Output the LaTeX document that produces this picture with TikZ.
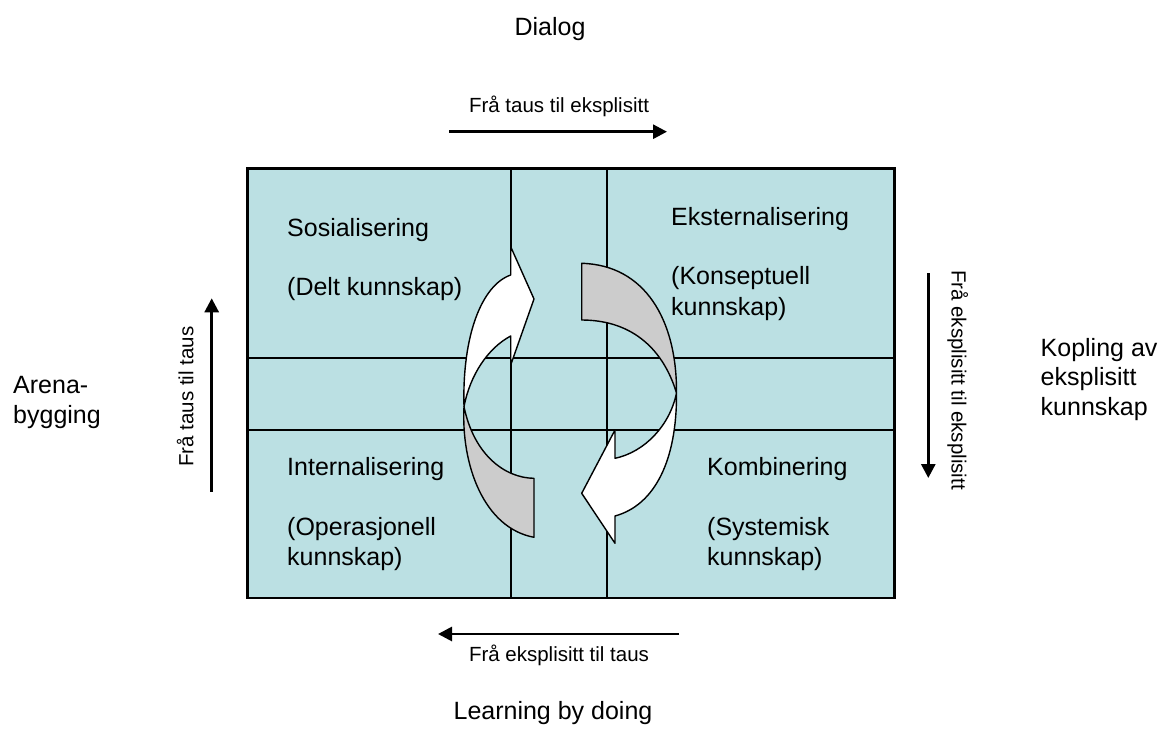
\documentclass[tikz,border=0pt]{standalone}
\usepackage{fontspec}
\setmainfont{Liberation Sans}
\usetikzlibrary{arrows.meta}
\definecolor{cellblue}{HTML}{BBE0E3}
\definecolor{backgray}{HTML}{CCCCCC}
\tikzset{
  bigtext/.style={font=\fontsize{25}{30}\selectfont, inner sep=0pt},
  smalltext/.style={font=\fontsize{20.5}{24}\selectfont, inner sep=0pt},
  flowarrow/.style={line width=2.8pt, -{Triangle[length=14pt,width=14pt]}},
  gridline/.style={line width=1.7pt},
  ribbon/.style={line width=1.4pt, line join=round},
}
\begin{document}
\begin{tikzpicture}[x=1pt,y=-1pt]
\useasboundingbox (0,0) rectangle (1163,729);
% matrix
\fill[cellblue] (247.5,168.5) rectangle (894.5,598);
\draw[gridline] (511,168.5) -- (511,598);
\draw[gridline] (607,168.5) -- (607,598);
\draw[gridline] (247.5,358) -- (894.5,358);
\draw[gridline] (247.5,430) -- (894.5,430);
\draw[line width=2.2pt] (247.5,168.5) rectangle (894.5,598);
% cusps
\coordinate (L) at (464,406.7);
\coordinate (R) at (676.5,393);
% left ribbon: gray tail
\draw[ribbon, fill=backgray] (L) .. controls (461,465) and (484,528) .. (534,537.3)
   -- (534,478.3) .. controls (505,478) and (474,455) .. (L) -- cycle;
% left ribbon: white head
\draw[ribbon, fill=white] (L) .. controls (462,335) and (482,285) .. (510.7,275)
   -- (510.7,246.7) -- (534,299) -- (510.7,365) -- (510.7,336)
   .. controls (488,348) and (470,375) .. (L) -- cycle;
% right ribbon: gray tail
\draw[ribbon, fill=backgray] (581.7,263.3) .. controls (645,265) and (677,320) .. (R)
   .. controls (662,345) and (628,320) .. (581.7,320) -- cycle;
% right ribbon: white head
\draw[ribbon, fill=white] (R) .. controls (677,460) and (655,505) .. (615,516)
   -- (615,543.3) -- (581.7,493.3) -- (615,430) -- (615,458.3)
   .. controls (645,452) and (670,425) .. (R) -- cycle;
% quadrant labels
\node[bigtext, anchor=base west] (sos) at (287,236.5) {Sosialisering};
\node[bigtext, anchor=base west] (sosk) at (287,295) {(Delt kunnskap)};
\node[bigtext, anchor=base west] (eks) at (671,225) {Eksternalisering};
\node[bigtext, anchor=base west] (eksk1) at (671,284) {(Konseptuell};
\node[bigtext, anchor=base west] (eksk2) at (671,315) {kunnskap)};
\node[bigtext, anchor=base west] (int) at (287,475) {Internalisering};
\node[bigtext, anchor=base west] (intk1) at (287,535) {(Operasjonell};
\node[bigtext, anchor=base west] (intk2) at (287,565) {kunnskap)};
\node[bigtext, anchor=base west] (kom) at (707,475) {Kombinering};
\node[bigtext, anchor=base west] (komk1) at (707,535) {(Systemisk};
\node[bigtext, anchor=base west] (komk2) at (707,565) {kunnskap)};
% outer labels
\node[bigtext, anchor=base] (dialog) at (550,35) {Dialog};
\node[bigtext, anchor=base] (lbd) at (553,719) {Learning by doing};
\node[bigtext, anchor=base west] (arena1) at (13,393) {Arena-};
\node[bigtext, anchor=base west] (arena2) at (13,423) {bygging};
\node[bigtext, anchor=base west] (kop1) at (1040.5,356.5) {Kopling av};
\node[bigtext, anchor=base west] (kop2) at (1040.5,385.5) {eksplisitt};
\node[bigtext, anchor=base west] (kop3) at (1040.5,415) {kunnskap};
% direction arrows
\node[smalltext, anchor=base] (tt) at (559,112.7) {Frå taus til eksplisitt};
\coordinate (ta1) at (449,131.7);
\coordinate (ta2) at (667,131.7);
\draw[flowarrow] (ta1) -- (ta2);
\node[smalltext, anchor=base] (bt) at (559,661.7) {Frå eksplisitt til taus};
\coordinate (ba1) at (679,634);
\coordinate (ba2) at (438,634);
\draw[flowarrow] (ba1) -- (ba2);
\node[smalltext, anchor=base, rotate=90] (lt) at (193.3,396.7) {Frå taus til taus};
\coordinate (la1) at (211.7,491.7);
\coordinate (la2) at (211.7,298.3);
\draw[flowarrow] (la1) -- (la2);
\node[smalltext, anchor=base, rotate=-90] (rt) at (951.5,380) {Frå eksplisitt til eksplisitt};
\coordinate (ra1) at (928.3,273.3);
\coordinate (ra2) at (928.3,478);
\draw[flowarrow] (ra1) -- (ra2);
\end{tikzpicture}
\end{document}
